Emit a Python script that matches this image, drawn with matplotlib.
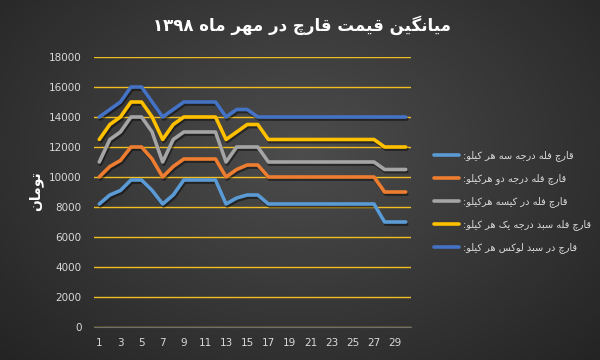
import numpy as np
import matplotlib
matplotlib.use('Agg')
import matplotlib.pyplot as plt
import matplotlib.patheffects as pe
from matplotlib.lines import Line2D

# داده‌ها (میانگین قیمت قارچ - مهر ۱۳۹۸)
days = list(range(1, 31))
tick_days = list(range(1, 30, 2))

grade3 = [8200, 8800, 9100, 9800, 9800, 9100, 8200, 8800, 9800, 9800, 9800, 9800, 8200, 8600, 8800, 8800,
          8200, 8200, 8200, 8200, 8200, 8200, 8200, 8200, 8200, 8200, 8200, 7000, 7000, 7000]
grade2 = [10000, 10700, 11100, 12000, 12000, 11200, 10000, 10700, 11200, 11200, 11200, 11200, 10000, 10500, 10800, 10800,
          10000, 10000, 10000, 10000, 10000, 10000, 10000, 10000, 10000, 10000, 10000, 9000, 9000, 9000]
bag = [11000, 12500, 13000, 14000, 14000, 13000, 11000, 12500, 13000, 13000, 13000, 13000, 11000, 12000, 12000, 12000,
       11000, 11000, 11000, 11000, 11000, 11000, 11000, 11000, 11000, 11000, 11000, 10500, 10500, 10500]
basket1 = [12500, 13500, 14000, 15000, 15000, 14000, 12500, 13500, 14000, 14000, 14000, 14000, 12500, 13000, 13500, 13500,
           12500, 12500, 12500, 12500, 12500, 12500, 12500, 12500, 12500, 12500, 12500, 12000, 12000, 12000]
lux = [14000, 14500, 15000, 16000, 16000, 15000, 14000, 14500, 15000, 15000, 15000, 15000, 14000, 14500, 14500, 14000,
       14000, 14000, 14000, 14000, 14000, 14000, 14000, 14000, 14000, 14000, 14000, 14000, 14000, 14000]

labels = ['قارچ فله درجه سه هر کیلو:', 'قارچ فله درجه دو هرکیلو:', 'قارچ فله در کیسه هرکیلو:',
          'قارچ فله سبد درجه یک هر کیلو:', 'قارچ در سبد لوکس هر کیلو:']
colors = ['#5B9BD5', '#ED7D31', '#A5A5A5', '#FFC000', '#4472C4']
title = 'میانگین قیمت قارچ در مهر ماه ۱۳۹۸'
ylabel = 'تومان'

# شکل‌دهی ساده حروف فارسی (matplotlib خودش این کار را نمی‌کند)
FORMS = {  # iso, fin, ini, med
    'ا': (0xFE8D, 0xFE8E, None, None), 'د': (0xFEA9, 0xFEAA, None, None),
    'ر': (0xFEAD, 0xFEAE, None, None), 'و': (0xFEED, 0xFEEE, None, None),
    'ب': (0xFE8F, 0xFE90, 0xFE91, 0xFE92), 'ت': (0xFE95, 0xFE96, 0xFE97, 0xFE98),
    'ج': (0xFE9D, 0xFE9E, 0xFE9F, 0xFEA0), 'س': (0xFEB1, 0xFEB2, 0xFEB3, 0xFEB4),
    'ف': (0xFED1, 0xFED2, 0xFED3, 0xFED4), 'ق': (0xFED5, 0xFED6, 0xFED7, 0xFED8),
    'ل': (0xFEDD, 0xFEDE, 0xFEDF, 0xFEE0), 'م': (0xFEE1, 0xFEE2, 0xFEE3, 0xFEE4),
    'ن': (0xFEE5, 0xFEE6, 0xFEE7, 0xFEE8), 'ه': (0xFEE9, 0xFEEA, 0xFEEB, 0xFEEC),
    'چ': (0xFB7A, 0xFB7B, 0xFB7C, 0xFB7D), 'گ': (0xFB92, 0xFB93, 0xFB94, 0xFB95),
    'ک': (0xFB8E, 0xFB8F, 0xFB90, 0xFB91), 'ی': (0xFBFC, 0xFBFD, 0xFBFE, 0xFBFF),
}


def fa(text):
    out = []
    for i, ch in enumerate(text):
        if ch not in FORMS:
            out.append(ch)
            continue
        prev = text[i - 1] if i > 0 else ''
        nxt = text[i + 1] if i + 1 < len(text) else ''
        join_prev = prev in FORMS and FORMS[prev][2] is not None
        join_next = FORMS[ch][2] is not None and nxt in FORMS
        f = FORMS[ch]
        if join_prev and join_next:
            code = f[3]
        elif join_prev:
            code = f[1]
        elif join_next:
            code = f[2]
        else:
            code = f[0]
        out.append(chr(code))
    s = ''.join(out)[::-1]
    # ارقام را دوباره چپ به راست کن
    res, buf = '', ''
    for ch in s:
        if ch.isdigit():
            buf += ch
        else:
            res += buf[::-1] + ch
            buf = ''
    return res + buf[::-1]


plt.rcParams['font.family'] = ['DejaVu Sans']

fig = plt.figure(figsize=(6, 3.6), dpi=100)

# پس‌زمینه تیره با گرادیان
bg = fig.add_axes([0, 0, 1, 1], zorder=0)
yy, xx = np.mgrid[0:360, 0:600]
r = np.sqrt(((xx - 300) / 420.0) ** 2 + ((yy - 150) / 300.0) ** 2)
shade = np.clip(0.30 - 0.16 * r, 0.145, 0.3)
bg.imshow(np.dstack([shade, shade, shade]), aspect='auto', extent=[0, 1, 0, 1])
bg.axis('off')

ax = fig.add_axes([94 / 600, 1 - 327 / 360, 317 / 600, 270 / 360], zorder=1)
ax.set_facecolor('none')

series = [grade3, grade2, bag, basket1, lux]
shadow = [pe.SimpleLineShadow(offset=(0.8, -1.5), shadow_color='black', alpha=0.45), pe.Normal()]
for vals, c in zip(series, colors):
    ax.plot(days, vals, color=c, lw=2.6, solid_joinstyle='round', solid_capstyle='round',
            path_effects=shadow, zorder=3)

ax.set_xlim(0.5, 30.5)
ax.set_ylim(0, 18000)
ax.set_yticks(range(0, 18001, 2000))
ax.set_xticks(tick_days)
ax.yaxis.grid(True, color='#F0BE22', lw=1.0)
ax.set_axisbelow(True)
for s in ['top', 'right', 'left']:
    ax.spines[s].set_visible(False)
ax.spines['bottom'].set_color('#6E6E6E')
ax.tick_params(length=0, colors='#D9D9D9', labelsize=7.5)
ax.tick_params(axis='x', pad=8)
ax.tick_params(axis='y', pad=9)

fig.text(0.503, 0.93, fa(title), ha='center', va='center', color='white', fontsize=12, fontweight='bold')
fig.text(0.06, 0.47, fa(ylabel), ha='center', va='center', rotation=90, color='white', fontsize=10, fontweight='bold')

handles = [Line2D([], [], color=c, lw=2.6, solid_capstyle='round') for c in colors]
ax.legend(handles, [fa(l) for l in labels], loc='center left', bbox_to_anchor=(425 / 600, 0.44),
          bbox_transform=fig.transFigure, frameon=False, fontsize=7, labelcolor='#D9D9D9',
          handlelength=2.6, handletextpad=0.4, labelspacing=1.25)

fig.savefig('out.png', dpi=100)
